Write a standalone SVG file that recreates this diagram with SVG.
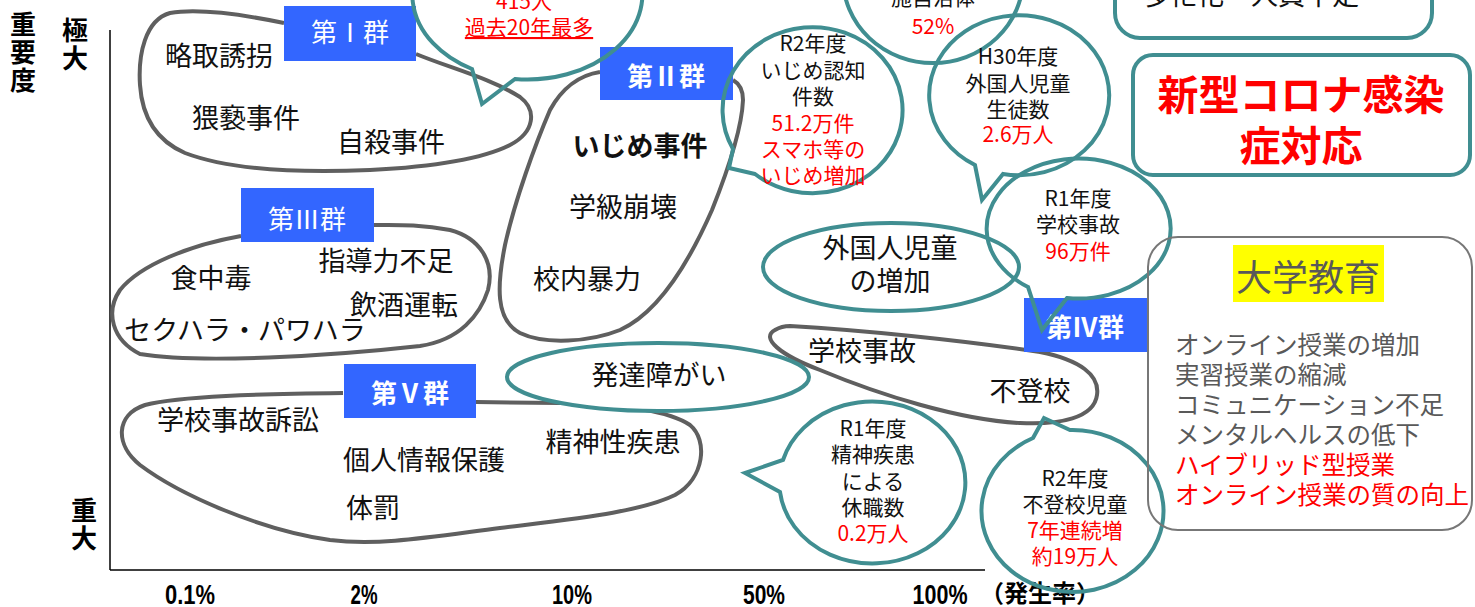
<svg xmlns="http://www.w3.org/2000/svg" width="1475" height="607" viewBox="0 0 1475 607">
<defs>
<style>
text{font-family:"Noto Sans CJK JP","Noto Sans",sans-serif;}
.blob{fill:none;stroke:#5f5f5f;stroke-width:4}
.bub{fill:none;stroke:#408e91;stroke-width:4}
.ell{fill:#fff;stroke:#408e91;stroke-width:4}
.gbox{fill:#3366ff}
.gt{fill:#fff;font-size:26px;text-anchor:middle}
.gtb{fill:#fff;font-size:26px;font-weight:700;text-anchor:middle}
.t{font-size:27px;fill:#111;text-anchor:middle}
.s{font-size:21px;fill:#111;text-anchor:middle}
.ax{font-size:26px;font-weight:700;fill:#000;writing-mode:vertical-rl;letter-spacing:2px}
.xl{font-family:"Liberation Sans",Arial,sans-serif;font-size:27px;font-weight:700;fill:#000;text-anchor:middle}
.uni{font-size:24.5px;fill:#595959}
.axis{stroke:#000;stroke-width:1.5;fill:none}
.r{fill:#ff0000}
</style>
</defs>
<rect width="1475" height="607" fill="#fff"/>

<g id="axes">
<line class="axis" x1="110" y1="30" x2="110" y2="570"/>
<line class="axis" x1="110" y1="570" x2="985" y2="570"/>
<text class="ax" x="23" y="11">重要度</text>
<text class="ax" x="75" y="17">極大</text>
<text class="ax" x="84" y="497">重大</text>
<text class="xl" x="190" y="604" textLength="50" lengthAdjust="spacingAndGlyphs">0.1%</text>
<text class="xl" x="364" y="604" textLength="27" lengthAdjust="spacingAndGlyphs">2%</text>
<text class="xl" x="572" y="604" textLength="40" lengthAdjust="spacingAndGlyphs">10%</text>
<text class="xl" x="764" y="604" textLength="42" lengthAdjust="spacingAndGlyphs">50%</text>
<text class="xl" x="940" y="604" textLength="55" lengthAdjust="spacingAndGlyphs">100%</text>
<text x="1040" y="602" font-size="24" font-weight="700" text-anchor="middle">（発生率）</text>
</g>

<g id="connectors">
<path class="blob" d="M284,23 C250,16 200,8 170,13 C145,20 138,55 140,85 C142,115 155,140 185,153 C230,170 300,173 370,170 C430,167 480,160 510,145 C535,132 537,110 520,97 C490,78 450,68 416,54"/>
<path class="blob" d="M600,72 C580,75 562,88 550,110 C535,145 515,200 505,245 C497,285 495,320 520,333 C545,345 590,342 620,330 C660,312 690,260 712,210 C730,165 742,125 743,100 C743,90 740,84 733,80"/>
<path class="blob" d="M241,236 C190,245 140,265 120,290 C105,312 112,340 140,354 C200,364 330,356 420,346 C460,340 480,315 488,290 C495,262 480,238 450,230 C420,224 395,225 374,225"/>
<path class="blob" d="M790,326 C860,330 960,340 1040,352 C1080,360 1100,375 1097,395 C1094,418 1060,425 1020,423 C960,420 880,395 820,370 C780,355 760,338 775,330 C780,327 785,326 790,326 Z"/>
<path class="blob" d="M343,393 C260,394 180,396 145,405 C115,415 115,445 140,465 C180,495 260,530 330,540 C380,546 430,537 500,528 C580,518 640,512 675,495 C705,478 708,440 690,425 C665,408 610,404 560,403 L476,402"/>
</g>

<g id="group1">
<rect class="gbox" x="284" y="6" width="132" height="55"/>
<text class="gt" x="350" y="42">第Ⅰ群</text>
<text class="t" x="219" y="66">略取誘拐</text>
<text class="t" x="246" y="128">猥褻事件</text>
<text class="t" x="391" y="152">自殺事件</text>
</g>

<g id="group2">
<rect class="gbox" x="600" y="47" width="133" height="53"/>
<text class="gtb" x="666" y="86">第Ⅱ群</text>
<text class="t" x="640" y="156" font-weight="700">いじめ事件</text>
<text class="t" x="623" y="217">学級崩壊</text>
<text class="t" x="587" y="289">校内暴力</text>
</g>

<g id="group3">
<rect class="gbox" x="241" y="188" width="133" height="54"/>
<text class="gt" x="307" y="229">第Ⅲ群</text>
<text class="t" x="211" y="288">食中毒</text>
<text class="t" x="386" y="271">指導力不足</text>
<text class="t" x="404" y="315">飲酒運転</text>
<text class="t" x="245" y="340">セクハラ・パワハラ</text>
</g>

<g id="group4">
<rect class="gbox" x="1024" y="298" width="123" height="54"/>
<text class="gtb" x="1085" y="337">第Ⅳ群</text>
<text class="t" x="862" y="361">学校事故</text>
<text class="t" x="1030" y="401">不登校</text>
</g>

<g id="group5">
<rect class="gbox" x="344" y="364" width="132" height="54"/>
<text class="gtb" x="410" y="403">第Ⅴ群</text>
<text class="t" x="238" y="430">学校事故訴訟</text>
<text class="t" x="424" y="470">個人情報保護</text>
<text class="t" x="373" y="518">体罰</text>
<text class="t" x="613" y="452">精神性疾患</text>
</g>

<g id="foreign">
<ellipse class="ell" cx="891" cy="267" rx="128" ry="44"/>
<text class="t" x="890" y="258">外国人児童</text>
<text class="t" x="890" y="291">の増加</text>
</g>

<g id="hattatsu">
<ellipse class="ell" cx="658" cy="377" rx="151" ry="34"/>
<text class="t" x="659" y="385">発達障がい</text>
</g>

<g id="bubble-suicide">
<path class="bub" d="M515,79 L482,104 L472,69 A115 85 0 1 1 515,79 Z"/>
<text class="s r" x="524" y="9" font-size="19">415人</text>
<text class="s r" x="529" y="35" font-size="19" text-decoration="underline">過去20年最多</text>
</g>

<g id="bubble-bullying">
<path class="bub" d="M755,174 L729,168 L733,149 A90 83 0 1 1 755,174 Z"/>
<text class="s" x="813" y="51">R2年度</text>
<text class="s" x="813" y="78">いじめ認知</text>
<text class="s" x="813" y="104">件数</text>
<text class="s r" x="813" y="131">51.2万件</text>
<text class="s r" x="813" y="157">スマホ等の</text>
<text class="s r" x="813" y="183">いじめ増加</text>
</g>

<g id="bubble-municipality">
<ellipse class="bub" cx="933" cy="-22" rx="90" ry="85"/>
<text class="s" x="933" y="5">施自治体</text>
<text class="s r" x="933" y="34">52%</text>
</g>

<g id="bubble-foreign">
<path class="bub" d="M1003,174 L982,200 L975,165 A90 80 0 1 1 1003,174 Z"/>
<text class="s" x="1018" y="64">H30年度</text>
<text class="s" x="1018" y="91">外国人児童</text>
<text class="s" x="1018" y="117">生徒数</text>
<text class="s r" x="1018" y="142">2.6万人</text>
</g>

<g id="bubble-accident">
<path class="bub" d="M1067,298 L1042,330 L1028,287 A92 70 0 1 1 1067,298 Z"/>
<text class="s" x="1078" y="206">R1年度</text>
<text class="s" x="1078" y="232">学校事故</text>
<text class="s r" x="1078" y="259">96万件</text>
</g>

<g id="bubble-mental">
<path class="bub" d="M780,492 L745,473 L783,460 A93 81 0 1 1 780,492 Z"/>
<text class="s" x="873" y="436">R1年度</text>
<text class="s" x="873" y="462">精神疾患</text>
<text class="s" x="873" y="489">による</text>
<text class="s" x="873" y="515">休職数</text>
<text class="s r" x="873" y="541">0.2万人</text>
</g>

<g id="bubble-futoko">
<path class="bub" d="M1033,438 L1044,418 L1070,430 A91 81 0 1 1 1033,438 Z"/>
<text class="s" x="1075" y="486">R2年度</text>
<text class="s" x="1075" y="512">不登校児童</text>
<text class="s r" x="1075" y="538">7年連続増</text>
<text class="s r" x="1075" y="564">約19万人</text>
</g>

<g id="box-staff">
<rect x="1115" y="-60" width="317" height="98" rx="25" fill="none" stroke="#408e91" stroke-width="4"/>
<text class="t" x="1251" y="5">多忙化・人員不足</text>
</g>

<g id="box-corona">
<rect x="1133" y="55" width="337" height="120" rx="20" fill="none" stroke="#408e91" stroke-width="4"/>
<text x="1301" y="110" font-size="41" font-weight="700" fill="#ff0000" text-anchor="middle">新型コロナ感染</text>
<text x="1301" y="161" font-size="41" font-weight="700" fill="#ff0000" text-anchor="middle">症対応</text>
</g>

<g id="box-university">
<rect x="1148" y="237" width="324" height="293" rx="30" fill="none" stroke="#777" stroke-width="2"/>
<rect x="1233" y="245" width="151" height="57" fill="#ffff00"/>
<text x="1308" y="291" font-size="36" fill="#595959" text-anchor="middle">大学教育</text>
<text class="uni" x="1175" y="354">オンライン授業の増加</text>
<text class="uni" x="1175" y="384">実習授業の縮減</text>
<text class="uni" x="1175" y="414">コミュニケーション不足</text>
<text class="uni" x="1175" y="444">メンタルヘルスの低下</text>
<text class="uni r" x="1175" y="474">ハイブリッド型授業</text>
<text class="uni r" x="1175" y="504">オンライン授業の質の向上</text>
</g>
</svg>
